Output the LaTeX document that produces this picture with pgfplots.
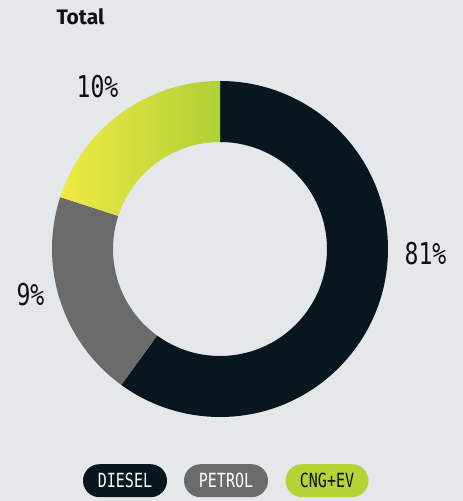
\documentclass[border=0pt]{standalone}
\usepackage{pgfplots}
\pgfplotsset{compat=1.18}
\usepackage{pgfplotstable}
\usepackage{fontspec}
\setmainfont{Fira Sans}
\newfontfamily\monof[FakeStretch=0.77]{DejaVu Sans Mono}
\definecolor{bg}{HTML}{E4E8EB}
\definecolor{diesel}{HTML}{08161E}
\definecolor{petrol}{HTML}{6B6B6B}
\definecolor{cngL}{HTML}{F0EA44}
\definecolor{cngR}{HTML}{B0D036}
\definecolor{cngpill}{HTML}{B4D334}
\definecolor{txt}{HTML}{111111}

% share of the ring each segment takes as drawn (percent of 360 degrees)
\pgfplotstableread{
label  share pct
DIESEL 60    81
PETROL 20    9
CNG+EV 20    10
}\sharetable

\begin{document}%
\begin{tikzpicture}
\pgfplotstablegetelem{0}{share}\of\sharetable \let\shA\pgfplotsretval
\pgfplotstablegetelem{1}{share}\of\sharetable \let\shB\pgfplotsretval
\pgfplotstablegetelem{2}{share}\of\sharetable \let\shC\pgfplotsretval
\pgfmathsetmacro\aS{90}
\pgfmathsetmacro\aE{\aS-3.6*\shA}
\pgfmathsetmacro\bE{\aE-3.6*\shB}
\pgfmathsetmacro\cE{\bE-3.6*\shC}
\def\cx{220}\def\cy{252}
\begin{axis}[
  width=463bp, height=501bp, scale only axis,
  xmin=0, xmax=463, ymin=0, ymax=501,
  hide axis, clip=false,
]
\fill[bg] (axis cs:0,0) rectangle (axis cs:463,501);
% DIESEL
\fill[diesel] ([shift={(\aS:168bp)}]axis cs:\cx,\cy) arc[start angle=\aS, end angle=\aE, radius=168bp]
  -- ([shift={(\aE:107bp)}]axis cs:\cx,\cy) arc[start angle=\aE, end angle=\aS, radius=107bp] -- cycle;
% PETROL
\fill[petrol] ([shift={(\aE:168bp)}]axis cs:\cx,\cy) arc[start angle=\aE, end angle=\bE, radius=168bp]
  -- ([shift={(\bE:107bp)}]axis cs:\cx,\cy) arc[start angle=\bE, end angle=\aE, radius=107bp] -- cycle;
% CNG+EV
\shade[left color=cngL, right color=cngR] ([shift={(\bE:168bp)}]axis cs:\cx,\cy) arc[start angle=\bE, end angle=\cE, radius=168bp]
  -- ([shift={(\cE:107bp)}]axis cs:\cx,\cy) arc[start angle=\cE, end angle=\bE, radius=107bp] -- cycle;
% value labels
\node[txt, font=\monof\fontsize{30bp}{30bp}\selectfont] at (axis cs:425.5,247) {81\%};
\node[txt, font=\monof\fontsize{30bp}{30bp}\selectfont] at (axis cs:30.5,206) {9\%};
\node[txt, font=\monof\fontsize{30bp}{30bp}\selectfont] at (axis cs:97.5,414.5) {10\%};
% title
\node[txt, anchor=base west, font=\bfseries\fontsize{21bp}{21bp}\selectfont] at (axis cs:53,476) {Total};
% legend pills
\node[fill=diesel, rounded corners=16.5bp, minimum width=84bp, minimum height=33bp, inner sep=0pt,
  text=white, font=\monof\fontsize{19.5bp}{19.5bp}\selectfont] at (axis cs:125,20.3) {DIESEL};
\node[fill=petrol, rounded corners=16.5bp, minimum width=84bp, minimum height=33bp, inner sep=0pt,
  text=white, font=\monof\fontsize{19.5bp}{19.5bp}\selectfont] at (axis cs:226,20.3) {PETROL};
\node[fill=cngpill, rounded corners=16.5bp, minimum width=83bp, minimum height=33bp, inner sep=0pt,
  text=txt, font=\monof\fontsize{19.5bp}{19.5bp}\selectfont] at (axis cs:327,20.3) {CNG+EV};
\end{axis}
\pgfresetboundingbox
\path (current axis.south west) rectangle (current axis.north east);
\end{tikzpicture}%
\end{document}
